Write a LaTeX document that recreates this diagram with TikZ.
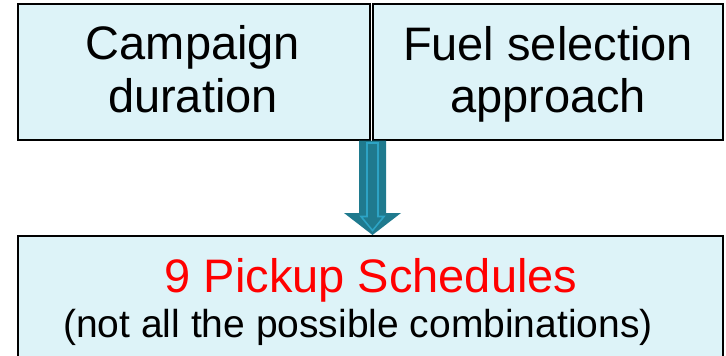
\documentclass[tikz,border=0pt]{standalone}
\usepackage{fontspec}
\setmainfont{Liberation Sans}
\definecolor{boxfill}{RGB}{221,243,248}
\definecolor{arrowdark}{RGB}{31,122,142}
\definecolor{arrowlight}{RGB}{45,163,196}
\definecolor{redtext}{RGB}{255,0,0}
\tikzset{
  box/.style={draw=black, line width=2pt, fill=boxfill, rectangle, inner sep=0pt},
  bigtext/.style={font=\fontsize{47}{54}\selectfont, anchor=base, inner sep=0pt},
  smalltext/.style={font=\fontsize{39}{45}\selectfont, anchor=base, inner sep=0pt},
}
\begin{document}
\begin{tikzpicture}[x=1pt,y=-1pt]
\useasboundingbox (0,0) rectangle (726,356);
\clip (0,0) rectangle (726,356);
% boxes
\node[box, minimum width=352pt, minimum height=136pt] (left) at (194.25,71.75) {};
\node[box, minimum width=350.5pt, minimum height=136pt] (right) at (547.75,71.75) {};
\node[box, minimum width=705pt, minimum height=140pt] (bottom) at (370.5,306) {};
% texts
\node[bigtext] (l1) at (193,59.5) {Campaign};
\node[bigtext] (l2) at (193,112.5) {duration};
\node[bigtext] (r1) at (548,60) {Fuel selection};
\node[bigtext] (r2) at (548,112.5) {approach};
\node[bigtext, text=redtext] (b1) at (371,292) {9 Pickup Schedules};
\node[smalltext] (b2) at (358,337) {(not all the possible combinations)};
% block arrow
\coordinate (atop) at (372.5,140.5);
\begin{scope}[shift={(atop)}]
\fill[arrowdark] (-13.5,0) -- (13.5,0) -- (13.5,72.5) -- (28.5,72.5)
  -- (0,94.5) -- (-28.5,72.5) -- (-13.5,72.5) -- cycle;
\draw[arrowlight, line width=1.6pt, line join=miter]
  (-5.5,2.5) -- (5.5,2.5) -- (5.5,76) -- (11.5,76)
  -- (0,90) -- (-11.5,76) -- (-5.5,76) -- cycle;
\end{scope}
\end{tikzpicture}
\end{document}
